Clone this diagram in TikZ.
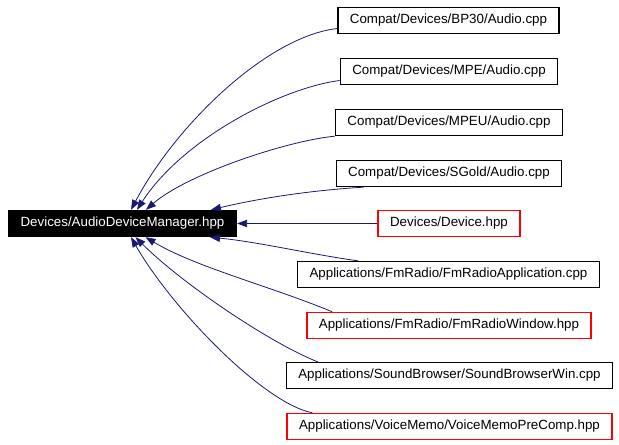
\documentclass[tikz,border=0pt]{standalone}
\usepackage{fontspec}
\setmainfont{Liberation Sans}
\usepackage{tikz}
\usetikzlibrary{arrows.meta, calc}
\definecolor{edgeblue}{HTML}{191970}

\begin{document}
\begin{tikzpicture}[
    x=0.75pt, y=0.75pt,
    font=\fontsize{10}{12}\selectfont,
    box/.style={rectangle, draw, line width=1pt, minimum height=19.5pt, inner xsep=9pt, inner ysep=0pt, align=center},
    file/.style={box, draw=black},
    missing/.style={box, draw=red},
    current/.style={box, fill=black, text=white},
    arr/.style={{Triangle[length=7.5pt, width=5.5pt, fill=edgeblue]}-, line width=0.6pt, draw=edgeblue}
]
\useasboundingbox (0,0) rectangle (619,-445);

%% ── Included header (left) ───────────────────────────────────────────────
\node[current] (main) at (122.5,-223.5) {Devices/AudioDeviceManager.hpp};

%% ── Files that include it (right column) ─────────────────────────────────
\node[file]    (bp30)   at (448.5,-20.5)  {Compat/Devices/BP30/Audio.cpp};
\node[file]    (mpe)    at (449,-71.5)    {Compat/Devices/MPE/Audio.cpp};
\node[file]    (mpeu)   at (449,-122.5)   {Compat/Devices/MPEU/Audio.cpp};
\node[file]    (sgold)  at (449,-173.5)   {Compat/Devices/SGold/Audio.cpp};
\node[missing] (device) at (449,-223.5)   {Devices/Device.hpp};
\node[file]    (fmapp)  at (448.5,-274.5) {Applications/FmRadio/FmRadioApplication.cpp};
\node[missing] (fmwin)  at (449,-325.5)   {Applications/FmRadio/FmRadioWindow.hpp};
\node[file]    (sbw)    at (449.5,-375.5) {Applications/SoundBrowser/SoundBrowserWin.cpp};
\node[missing] (vm)     at (449.5,-426.5) {Applications/VoiceMemo/VoiceMemoPreComp.hpp};

%% ── Upper edges ──────────────────────────────────────────────────────────
\draw[arr] ($(main.north)+(8.5,0)$) .. controls +(45,85) and +(-70,-8) .. ($(bp30.west)+(0,-8)$);
\draw[arr] ($(main.north)+(14.5,0)$) .. controls +(45,70) and +(-60,-8) .. ($(mpe.west)+(0,-9)$);
\draw[arr] ($(main.north)+(23.5,0)$) .. controls +(40,35) and +(-50,-5) .. (mpeu.south west);
\draw[arr] ($(main.north)+(88.5,0)$) .. controls +(50,12) and +(-50,-3) .. ($(sgold.south west)+(28,0)$);

%% ── Straight edge ────────────────────────────────────────────────────────
\draw[arr] (main) -- (device);

%% ── Lower edges ──────────────────────────────────────────────────────────
\draw[arr] ($(main.south)+(87.5,0)$) .. controls +(50,-5) and +(-50,7) .. ($(fmapp.north west)+(61,0)$);
\draw[arr] ($(main.south)+(23,0)$) .. controls +(50,-30) and +(-60,25) .. ($(fmwin.north west)+(26,0)$);
\draw[arr] ($(main.south)+(13,0)$) .. controls +(45,-45) and +(-50,20) .. ($(sbw.north west)+(32,0)$);
\draw[arr] ($(main.south)+(8.5,0)$) .. controls +(40,-70) and +(-50,10) .. ($(vm.north west)+(26,0)$);

\end{tikzpicture}
\end{document}
